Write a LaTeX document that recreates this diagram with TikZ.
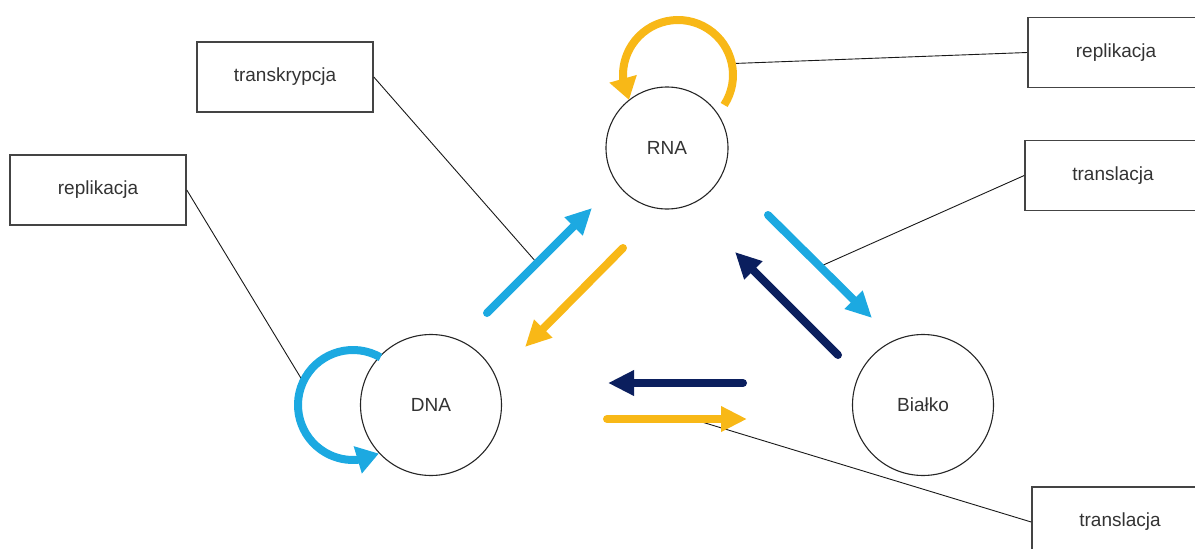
\documentclass[tikz,border=0pt]{standalone}
\usepackage{fontspec}
\setmainfont{Liberation Sans}
\usetikzlibrary{arrows.meta,bending,calc}
\definecolor{skyblue}{HTML}{1CA9E1}
\definecolor{amber}{HTML}{F8B817}
\definecolor{navy}{HTML}{0B1F5E}
\definecolor{txt}{HTML}{333333}
\definecolor{frame}{HTML}{444444}

\begin{document}
\begin{tikzpicture}[x=1pt,y=-1pt,
  labelbox/.style={draw=frame, line width=1.6pt, minimum width=176pt,
    minimum height=70pt, inner sep=0pt, text=txt,
    font=\fontsize{19}{22}\selectfont},
  molecule/.style={circle, draw=black!85, line width=1.1pt, inner sep=0pt,
    text=txt, font=\fontsize{19}{22}\selectfont},
  flow/.style={line width=8pt, line cap=round,
    -{Triangle[length=26pt,width=24pt]}},
  loopflow/.style={line width=8pt,
    -{Triangle[length=22pt,width=27pt,flex]}},
  leader/.style={draw=black!90, line width=0.9pt}]

\useasboundingbox (0,0) rectangle (1195,549);
\clip (0,0) rectangle (1195,549);

% molecules
\node[molecule, minimum size=122pt] (rna) at (667,148) {RNA};
\node[molecule, minimum size=141pt] (dna) at (431,405) {DNA};
\node[molecule, minimum size=141pt] (prot) at (923,405) {Białko};

% label boxes
\node[labelbox] (trans) at (285,77) {transkrypcja};
\node[labelbox] (repL) at (98,190) {replikacja};
\node[labelbox] (repR) at (1116,52.5) {replikacja};
\node[labelbox] (trR) at (1113,175.5) {translacja};
\node[labelbox] (trB) at (1120,522) {translacja};

% end points of the transfer arrows
\coordinate (dr1) at (487,313);  \coordinate (dr2) at (592,208);
\coordinate (rd1) at (623,248);  \coordinate (rd2) at (525,347);
\coordinate (rp1) at (768,215);  \coordinate (rp2) at (872,318);
\coordinate (pr1) at (838,355);  \coordinate (pr2) at (735,252);
\coordinate (pd1) at (743,383);  \coordinate (pd2) at (608,383);
\coordinate (dp1) at (607,419);  \coordinate (dp2) at (747,419);

% self-loop centres
\coordinate (rnaLoop) at (678,75);
\coordinate (dnaLoop) at (353,405);

% points where the leaders meet the arrows
\coordinate (onDR) at ($(dr1)!0.476!(dr2)$);
\coordinate (onRP) at ($(rp1)!0.5!(rp2)$);
\coordinate (onDP) at ($(dp1)!0.607!(dp2)$);
\coordinate (onRnaLoop) at ($(rnaLoop)+(-12:55)$);
\coordinate (onDnaLoop) at ($(dnaLoop)+(-155:55)$);

% leaders
\draw[leader] (trans.east) -- (onDR);
\draw[leader] (repL.east) -- (onDnaLoop);
\draw[leader] (repR.west) -- (onRnaLoop);
\draw[leader] (trR.west) -- (onRP);
\draw[leader] (trB.west) -- (onDP);

% transfers between molecules
\draw[flow, skyblue] (dr1) -- (dr2);
\draw[flow, amber] (rd1) -- (rd2);
\draw[flow, skyblue] (rp1) -- (rp2);
\draw[flow, navy] (pr1) -- (pr2);
\draw[flow, navy] (pd1) -- (pd2);
\draw[flow, amber] (dp1) -- (dp2);

% replication loops
\draw[loopflow, amber] ($(rnaLoop)+(33:55)$)
  arc[start angle=33, end angle=-207, radius=55];
\draw[loopflow, skyblue] ($(dnaLoop)+(-60:55)$)
  arc[start angle=-60, end angle=-298, radius=55];
\end{tikzpicture}
\end{document}
